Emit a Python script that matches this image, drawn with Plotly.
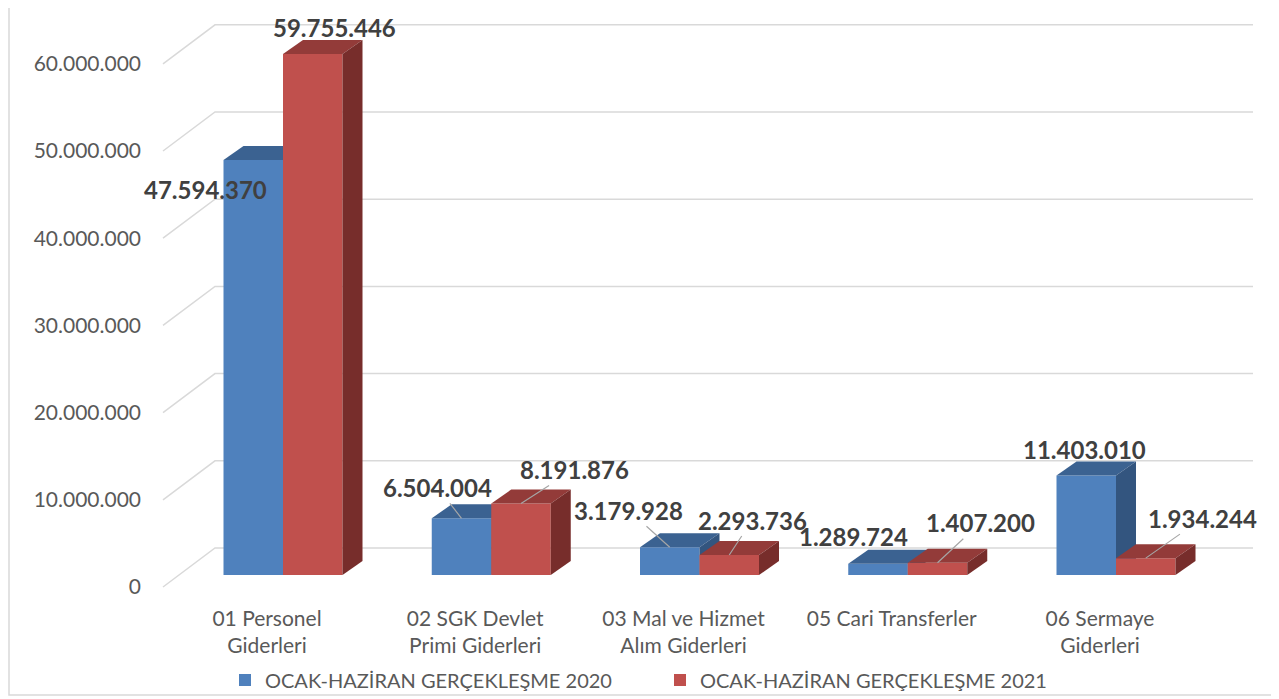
import plotly.graph_objects as go

# ---------------- data ----------------
categories = ["01 Personel<br>Giderleri", "02 SGK Devlet<br>Primi Giderleri",
              "03 Mal ve Hizmet<br>Alım Giderleri", "05 Cari Transferler",
              "06 Sermaye<br>Giderleri"]
series_names = ["OCAK-HAZİRAN GERÇEKLEŞME 2020", "OCAK-HAZİRAN GERÇEKLEŞME 2021"]
values_2020 = [47594370, 6504004, 3179928, 1289724, 11403010]
values_2021 = [59755446, 8191876, 2293736, 1407200, 1934244]
y_ticks = [0, 10000000, 20000000, 30000000, 40000000, 50000000, 60000000]

# ---------------- styling / geometry ----------------
OFF = 8                       # page body margin in the browser
SW, SH = 1279, 699            # screen size
W, H = SW - OFF, SH - OFF     # figure size
PL, PR, PT, PB = 150, 1265, 20, 590   # plot area in screen pixels
L, T = PL - OFF, PT - OFF
R, B = SW - PR, SH - PB
PX_PER_CAT = 208.25          # pixels per category unit
PX_PER_VAL = 8.72e-6         # pixels per value unit
plot_w = PR - PL
plot_h = PB - PT
x0 = -(283 - PL) / PX_PER_CAT
x_range = [x0, x0 + plot_w / PX_PER_CAT]
y_min = -(PB - 575) / PX_PER_VAL
y_range = [y_min, y_min + plot_h / PX_PER_VAL]

bar_w = 59.5 / PX_PER_CAT
depth_dx = 20 / PX_PER_CAT
depth_dy = 14 / PX_PER_VAL

colors = {
    "2020": ("#4F81BD", "#3B6291", "#33557F"),
    "2021": ("#C0504D", "#933B39", "#772D2B"),
}
FONT = "Lato"

def fmt(v):
    return f"{v:,}".replace(",", ".")

fig = go.Figure()

# back-wall / floor gridlines derived from the tick values (drawn below traces)
floor_dx, floor_dy = -(283 - 163) / PX_PER_CAT, -12 / PX_PER_VAL
wall_dx, wall_dy = -(283 - 215) / PX_PER_CAT, 27 / PX_PER_VAL
wall_right = (1253 - 283) / PX_PER_CAT
for v in y_ticks:
    path = (f"M {floor_dx},{v + floor_dy} L {wall_dx},{v + wall_dy} "
            f"L {wall_right},{v + wall_dy}")
    fig.add_shape(type="path", path=path, xref="x", yref="y", layer="below",
                  line=dict(color="#D9D9D9", width=1.5))

xs = list(range(len(categories)))
# each series on its own (overlaid) axis pair so the later series is drawn on top
for name, vals, key, off, xa, ya in [(series_names[0], values_2020, "2020", -bar_w, "x", "y"),
                                     (series_names[1], values_2021, "2021", 0.0, "x2", "y2")]:
    front, top, side = colors[key]
    fig.add_trace(go.Bar(x=xs, y=vals, width=bar_w, offset=off, name=name,
                         xaxis=xa, yaxis=ya,
                         marker=dict(color=front, line=dict(width=0))))
    for i, v in zip(xs, vals):
        xl = i + off
        xr = xl + bar_w
        fig.add_trace(go.Scatter(
            x=[xl, xl + depth_dx, xr + depth_dx, xr, xl],
            y=[v, v + depth_dy, v + depth_dy, v, v], xaxis=xa, yaxis=ya,
            fill="toself", fillcolor=top, mode="lines", line=dict(width=0, color=top),
            hoverinfo="skip", showlegend=False))
        fig.add_trace(go.Scatter(
            x=[xr, xr, xr + depth_dx, xr + depth_dx, xr],
            y=[0, v, v + depth_dy, depth_dy, 0], xaxis=xa, yaxis=ya,
            fill="toself", fillcolor=side, mode="lines", line=dict(width=0, color=side),
            hoverinfo="skip", showlegend=False))

# data labels: pixel offset of label centre from the bar's front-top centre
label_font = dict(family=FONT, size=24, color="#404040")
label_offsets_2020 = [(-48, 30, False), (-24, -31, True), (-41, -37, True), (-25, -27, False), (-2, -26, False)]
label_offsets_2021 = [(22, -26, False), (53, -34, True), (23, -35, True), (43, -40, True), (57, -40, True)]
for vals, offs, c in [(values_2020, label_offsets_2020, -bar_w / 2),
                      (values_2021, label_offsets_2021, bar_w / 2)]:
    for i, (v, (dx, dy, leader)) in enumerate(zip(vals, offs)):
        txt = "<b>" + fmt(v) + "</b>"
        if leader:
            fig.add_annotation(x=i + c, y=v, text=txt, showarrow=True, ax=dx, ay=dy,
                               arrowhead=0, arrowwidth=1.2, arrowcolor="#A6A6A6",
                               standoff=0, font=label_font)
        else:
            fig.add_annotation(x=i + c, y=v, text=txt, showarrow=False,
                               xshift=dx, yshift=-dy, font=label_font)

# chart border (left and bottom visible)
fig.add_shape(type="rect", xref="paper", yref="paper",
              x0=(OFF + 1 - PL) / plot_w, x1=(SW + 10 - PL) / plot_w,
              y0=-(695 - PB) / plot_h, y1=1 + 30 / plot_h,
              line=dict(color="#D9D9D9", width=1.5), layer="below")

axis_common = dict(showgrid=False, zeroline=False, showline=False, ticks="", automargin=False)
fig.update_layout(
    width=W, height=H,
    margin=dict(l=L, r=R, t=T, b=B, autoexpand=False),
    paper_bgcolor="white", plot_bgcolor="white",
    barmode="overlay",
    font=dict(family=FONT, color="#595959", size=20),
    showlegend=True,
    legend=dict(orientation="h", xref="container", yref="container",
                x=(660 - OFF) / W, xanchor="center",
                y=(SH - 680) / H, yanchor="middle",
                font=dict(family=FONT, size=20, color="#595959"),
                traceorder="normal", itemwidth=30, entrywidth=390, bgcolor="rgba(0,0,0,0)"),
    xaxis=dict(range=x_range, tickmode="array", tickvals=xs, ticktext=categories,
               ticklabelshift=-16, ticklabelstandoff=14,
               tickfont=dict(family=FONT, size=21, color="#595959"), **axis_common),
    yaxis=dict(range=y_range, tickmode="array", tickvals=y_ticks,
               ticktext=[fmt(v) for v in y_ticks],
               ticklabelshift=12, ticklabelstandoff=8,
               tickfont=dict(family=FONT, size=21, color="#595959"), **axis_common),
    xaxis2=dict(range=x_range, overlaying="x", visible=False, **axis_common),
    yaxis2=dict(range=y_range, overlaying="y", visible=False, **axis_common),
)

fig.write_html("out.html")
